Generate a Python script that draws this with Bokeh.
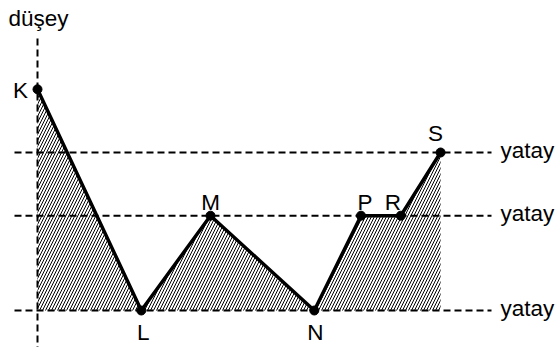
from bokeh.plotting import figure
from bokeh.models import Range1d, ColumnDataSource
from bokeh.core.properties import value
from bokeh.embed import file_html
from bokeh.resources import INLINE

# ---- data ----
point_names = ["K", "L", "M", "N", "P", "R", "S"]
point_x = [0, 3, 5, 8, 9.35, 10.5, 11.65]
point_y = [7, 0, 3, 0, 3, 3, 5]
level_y = [0, 3, 5]
level_labels = ["yatay", "yatay", "yatay"]
vertical_label = "düşey"

# ---- layout constants (screen pixels) ----
W, H = 557, 347
PX_X, PX_Y = 34.6, 31.6      # pixels per data unit
ORIG_X, ORIG_Y = 37, 310     # screenshot pixel of data origin
PAGE = 0
TXT_SHIFT = -5               # text rendering correction (px, down)
FONT = value("Liberation Sans")
FS = "22.5px"


def dx(px):
    return px / PX_X


def dy(py):  # py: screen pixels downward
    return -(py + TXT_SHIFT) / PX_Y


def sx_to_data(sx):
    return (sx - ORIG_X) / PX_X


def sy_to_data(sy):
    return (ORIG_Y - sy) / PX_Y


p = figure(width=W, height=H, output_backend="svg", toolbar_location=None,
           x_range=Range1d(sx_to_data(PAGE), sx_to_data(PAGE + W)),
           y_range=Range1d(sy_to_data(PAGE + H), sy_to_data(PAGE)),
           min_border=0)
p.axis.visible = False
p.grid.visible = False
p.outline_line_color = None
p.background_fill_color = "white"
p.border_fill_color = "white"

# hatched area under the path
hx = [point_x[0]] + point_x + [point_x[-1]]
hy = [level_y[0]] + point_y + [level_y[0]]
p.patch(hx, hy, fill_alpha=0, line_alpha=0, hatch_pattern="/",
        hatch_color="black", hatch_weight=1, hatch_scale=6)

# dashed horizontal reference lines
x_left, x_right = sx_to_data(14), sx_to_data(491)
for lvl in level_y:
    p.line([x_left, x_right], [lvl, lvl], line_color="black", line_width=2,
           line_dash="7 4")
# dashed vertical line
p.line([point_x[0], point_x[0]], [sy_to_data(38), sy_to_data(350)],
       line_color="black", line_width=2, line_dash="7 4")

# the path
p.line(point_x, point_y, line_color="black", line_width=3.5, line_join="round")
p.scatter(point_x, point_y, size=9, fill_color="black", line_color="black")

# point labels (offsets in screen px: right, down; baseline alphabetic)
offsets = {"K": (-17, 6), "L": (2, 27), "M": (0, -8), "N": (1, 27),
           "P": (4, -8), "R": (-8, -8), "S": (-5, -14)}
lx = [x + dx(offsets[n][0]) for x, n in zip(point_x, point_names)]
ly_ = [y + dy(offsets[n][1]) for y, n in zip(point_y, point_names)]
src = ColumnDataSource(dict(x=lx, y=ly_, t=point_names))
p.text("x", "y", text="t", source=src, text_font=FONT, text_font_size=FS,
       text_align="center", text_baseline="alphabetic", text_color="black")

# level labels
src2 = ColumnDataSource(dict(x=[sx_to_data(500)] * len(level_y),
                             y=[v + dy(3) for v in level_y], t=level_labels))
p.text("x", "y", text="t", source=src2, text_font=FONT, text_font_size=FS,
       text_align="left", text_baseline="alphabetic", text_color="black")

# vertical axis label
p.text([point_x[0] + dx(1)], [sy_to_data(23 + TXT_SHIFT)], text=[vertical_label],
       text_font=FONT, text_font_size=FS, text_align="center",
       text_baseline="alphabetic", text_color="black")

open("out.html", "w").write(file_html(p, INLINE))
